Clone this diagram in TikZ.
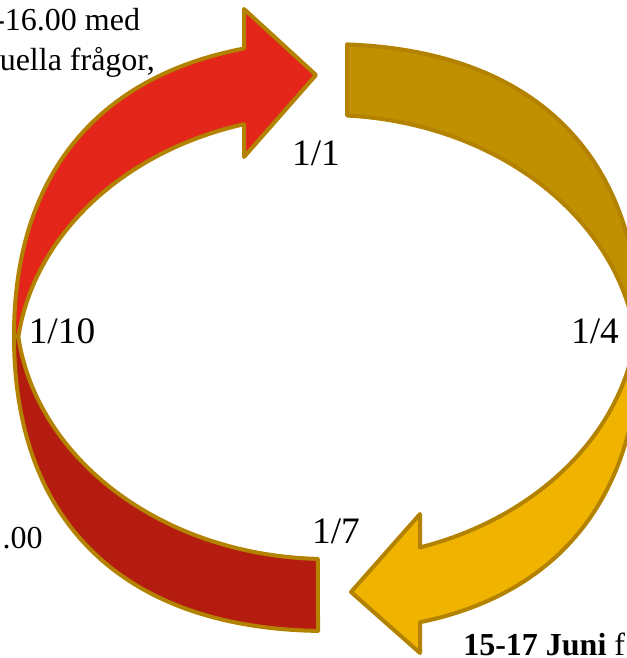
\documentclass[tikz,border=0pt]{standalone}
\usepackage{fontspec}
\setmainfont{Liberation Serif}
\definecolor{rimgold}{RGB}{178,130,0}
\definecolor{arrowred}{RGB}{227,38,25}
\definecolor{bandgold}{RGB}{192,144,0}
\definecolor{arrowyellow}{RGB}{240,180,0}
\definecolor{banddarkred}{RGB}{181,28,16}
\begin{document}
\begin{tikzpicture}[x=0.75pt,y=-0.75pt,
  band/.style={draw=rimgold, line width=3pt, line join=round},
  lbl/.style={font=\fontsize{28}{34}\selectfont, inner sep=0pt, anchor=base},
  note/.style={font=\fontsize{24}{29}\selectfont, inner sep=0pt}]
\useasboundingbox (0,0) rectangle (627,658);
\clip (0,0) rectangle (627,658);
\filldraw[band, fill=arrowred] (14,336) .. controls (14,176.8) and (95.8,76.9) .. (244,48.5)
  -- (244,9) -- (316,75) -- (244,157) -- (244,124.2)
  arc[start angle=254.52, end angle=187.27, x radius=311, y radius=253] -- cycle;
\filldraw[band, fill=bandgold] (347,44.4) .. controls (534.8,51.2) and (640,155.4) .. (640,336)
  -- (635.5,336) arc[start angle=-7.27, end angle=-86.31, x radius=311, y radius=253] -- cycle;
\filldraw[band, fill=arrowyellow] (640,336) .. controls (640,493.3) and (561.8,593.2) .. (420,622.2)
  -- (420,653) -- (351,592) -- (420,514) -- (420,547.4)
  arc[start angle=72.6, end angle=6.81, x radius=311, y radius=253] -- cycle;
\filldraw[band, fill=banddarkred] (318,630.9) .. controls (123.4,627.8) and (14,522.0) .. (14,336)
  -- (18.2,336) arc[start angle=173.19, end angle=91.66, x radius=311, y radius=253] -- cycle;
\path (316,165) node[lbl] (d1) {1/1}
      (595,343) node[lbl] (d4) {1/4}
      (336,543) node[lbl] (d7) {1/7}
      (62,343) node[lbl] (d10) {1/10};
\path (-6,30) node[note, anchor=base west] (t1) {-16.00 med}
      (-0.5,70) node[note, anchor=base west] (t2) {uella frågor,}
      (43,548) node[note, anchor=base east] (t3) {.00}
      (463,655) node[note, anchor=base west] (t4) {\textbf{15-17 Juni} f};
\end{tikzpicture}
\end{document}
